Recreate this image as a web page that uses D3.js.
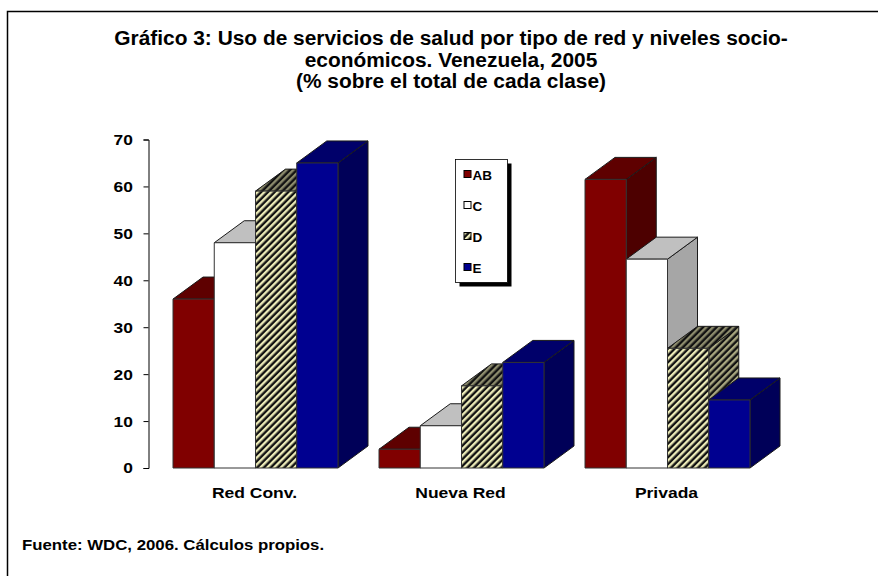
<!DOCTYPE html>
<html lang="es">
<head>
  <meta charset="UTF-8">
  <title>Gráfico 3</title>
  <script src="https://d3js.org/d3.v7.min.js"></script>
  <style>
    body { margin: 0; background: #fff; }
    text { font-family: "Liberation Sans", Arial, sans-serif; font-weight: bold; fill: #000; }
  </style>
</head>
<body>
<script>
  // data
  const categories = ['Red Conv.', 'Nueva Red', 'Privada']
  const series = ['AB', 'C', 'D', 'E']
  const valAB = [36, 4, 61.5]
  const valC = [48, 9, 44.5]
  const valD = [59, 17.5, 25.5]
  const valE = [65, 22.5, 14.5]
  const yTicks = [0, 10, 20, 30, 40, 50, 60, 70]
  const values = [valAB, valC, valD, valE]

  const W = 878, H = 576
  const depthX = 30, depthY = -22

  const svg = d3.select('body').append('svg').attr('width', W).attr('height', H)

  // text in the original is drawn a little wide, so stretch it sideways
  function wideText(sel, x, y, k, size, anchor, str) {
    return sel.append('text')
      .attr('transform', 'translate(' + x + ',' + y + ') scale(' + k + ',1)')
      .attr('text-anchor', anchor).style('font-size', size + 'px').text(str)
  }

  // patterns for the striped D series
  const defs = svg.append('defs')
  function stripes(id, light) {
    const p = defs.append('pattern').attr('id', id)
      .attr('patternUnits', 'userSpaceOnUse')
      .attr('width', 4.8).attr('height', 4.8)
      .attr('patternTransform', 'rotate(45)')
    p.append('rect').attr('width', 4.8).attr('height', 4.8).attr('fill', '#111')
    p.append('rect').attr('width', 2.4).attr('height', 4.8).attr('fill', light)
  }
  stripes('dFront', '#ecebb8')
  stripes('dTop', '#8c8b6c')
  stripes('dSide', '#a8a780')

  const faces = {
    AB: { front: '#800000', top: '#5e0000', side: '#4d0000' },
    C: { front: '#ffffff', top: '#c0c0c0', side: '#a6a6a6' },
    D: { front: 'url(#dFront)', top: 'url(#dTop)', side: 'url(#dSide)' },
    E: { front: '#000090', top: '#00006a', side: '#000058' }
  }

  // frame (runs off the right and bottom edge)
  svg.append('path').attr('d', 'M7.5,' + (H + 5) + 'V11.5H' + (W + 5))
    .attr('fill', 'none').attr('stroke', '#000').attr('stroke-width', 1.5)

  // title
  const title = ['Gráfico 3: Uso de servicios de salud por tipo de red y niveles socio-',
    'económicos. Venezuela, 2005', '(% sobre el total de cada clase)']
  const gt = svg.append('g')
  title.forEach((t, i) => wideText(gt, 451, 45 + i * 21.5, 1.02, 20.5, 'middle', t))

  const y = d3.scaleLinear().domain([0, 70]).range([468, 139.5])
  const step = 206
  const x0 = d3.scaleBand().domain(categories)
    .range([148, 148 + step * (3 - 41 / 206 + 50 / 206)])
    .paddingInner(41 / 206).paddingOuter(25 / 206)
  const x1 = d3.scaleBand().domain(series).range([0, x0.bandwidth()])

  // y axis
  const yAxis = d3.axisLeft(y).tickValues(yTicks).tickSize(5).tickPadding(9)
  const ga = svg.append('g').attr('transform', 'translate(148.5,0)').call(yAxis)
  ga.select('.domain').attr('stroke', '#000').attr('stroke-width', 1)
  ga.selectAll('.tick line').attr('stroke', '#000')
  ga.selectAll('.tick text').style('font-size', '15.5px')
    .style('font-family', '"Liberation Sans", Arial, sans-serif')
    .style('font-weight', 'bold').attr('fill', '#000')
    .attr('transform', 'scale(1.12,1)')

  // category labels
  const gc = svg.append('g')
  categories.forEach(c => wideText(gc, x0(c) + x0.bandwidth() / 2 - 1, 498, 1.13, 15.5, 'middle', c))

  // 3D bars, left to right so the nearer (right) bars cover the sides
  const bars = []
  categories.forEach((c, ci) => {
    series.forEach((s, si) => {
      bars.push({ cat: c, s: s, v: values[si][ci] })
    })
  })
  const gb = svg.append('g')
  bars.forEach(b => {
    const xl = x0(b.cat) + x1(b.s), xr = xl + x1.bandwidth()
    const yt = y(b.v), yb = y(0)
    const g = gb.append('g').attr('stroke', '#1a1a1a').attr('stroke-width', 1).attr('stroke-linejoin', 'round')
    g.append('path').attr('fill', faces[b.s].side)
      .attr('d', `M${xr},${yt}L${xr + depthX},${yt + depthY}L${xr + depthX},${yb + depthY}L${xr},${yb}Z`)
    g.append('path').attr('fill', faces[b.s].top)
      .attr('d', `M${xl},${yt}L${xl + depthX},${yt + depthY}L${xr + depthX},${yt + depthY}L${xr},${yt}Z`)
    g.append('rect').attr('fill', faces[b.s].front).attr('stroke', '#333')
      .attr('x', xl).attr('y', yt).attr('width', xr - xl).attr('height', yb - yt)
  })

  // legend
  const lg = svg.append('g').attr('transform', 'translate(455.5,159.5)')
  lg.append('rect').attr('x', 4).attr('y', 4).attr('width', 52).attr('height', 123).attr('fill', '#000')
  lg.append('rect').attr('width', 52).attr('height', 123).attr('fill', '#fff').attr('stroke', '#000').attr('stroke-width', 0.8)
  series.forEach((s, i) => {
    const cy = 15 + i * 31
    lg.append('rect').attr('x', 8.5).attr('y', cy - 4).attr('width', 7).attr('height', 7)
      .attr('fill', faces[s].front).attr('stroke', '#000').attr('stroke-width', 1)
    wideText(lg, 17, cy + 5, 1.0, 13.5, 'start', s)
  })

  // source
  wideText(svg, 22, 550, 1.12, 15, 'start', 'Fuente: WDC, 2006. Cálculos propios.')
</script>
</body>
</html>
